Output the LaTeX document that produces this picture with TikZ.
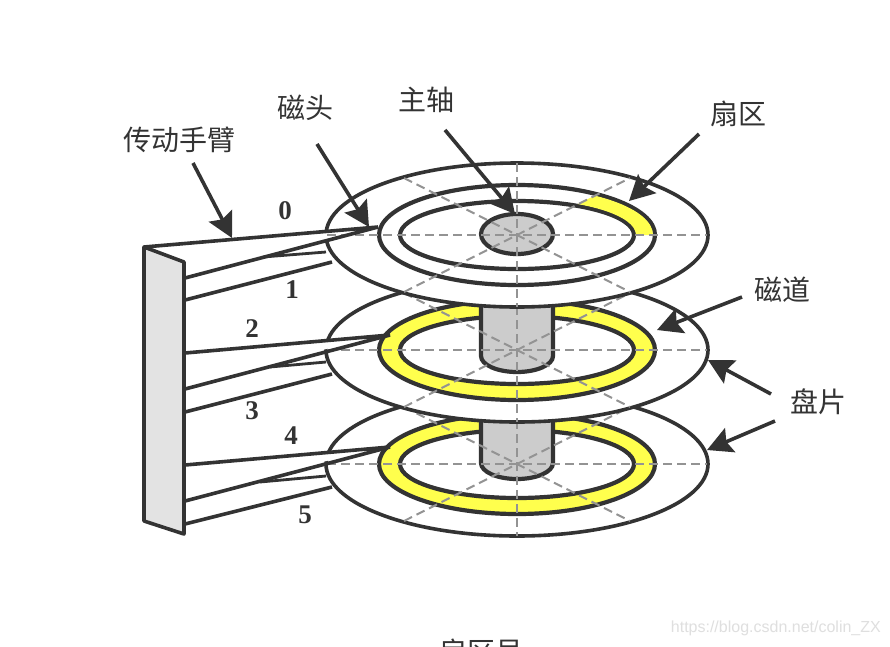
\documentclass[tikz,border=0pt]{standalone}
\usepackage{fontspec}
\newfontfamily\cjk{Noto Sans CJK SC}
\setmainfont{Liberation Serif}
\setsansfont{Liberation Sans}
\usetikzlibrary{arrows.meta}
\definecolor{ink}{HTML}{333333}
\definecolor{ringyellow}{HTML}{FFFF4D}
\definecolor{spindlegray}{HTML}{CCCCCC}
\definecolor{blockgray}{HTML}{E3E3E3}
\tikzset{
	edge/.style={draw=ink,line width=3.6pt},
	track/.style={draw=ink,line width=4.2pt},
	cross/.style={draw=gray!85,line width=2pt,dash pattern=on 9pt off 5pt},
	callout/.style={draw=ink,line width=3.6pt,-{Stealth[length=25pt,width=26pt,inset=4pt]}},
	hanzi/.style={text=ink,font=\cjk\fontsize{28}{30}\selectfont,inner sep=0pt},
	digit/.style={text=ink,font=\bfseries\fontsize{27}{30}\selectfont,inner sep=0pt},
}
\begin{document}
\begin{tikzpicture}[x=1pt,y=-1pt]
	\clip (0,0) rectangle (890,646);
	\fill[white] (0,0) rectangle (890,646);
	% platters with their heads, lowest first
	\foreach \cy/\col/\sb/\ya/\xa/\yh/\xh/\yb/\xk/\yk/\yl/\yc/\ye in {
		464/ringyellow/479/465/185/447/390/501/260/482/476/524/487,
		350/ringyellow/372/353/185/335/390/389/270/367/362/412/374,
		235/white/0/247/144/227/378/278/263/257/252/300/262}{
		\draw[edge,fill=white] (517,\cy) ellipse [x radius=191,y radius=72];
		\draw[track,fill=\col] (517,\cy) ellipse [x radius=138,y radius=50];
		\draw[track,fill=white] (517,\cy) ellipse [x radius=117,y radius=34];
		\ifnum\sb>0
			\draw[track,fill=spindlegray] (481,\cy-130) -- (481,\sb-16) arc [start angle=180,end angle=0,x radius=36,y radius=16] -- (553,\cy-130) -- cycle;
		\else
			% sector on the top platter
			\begin{scope}
				\clip (517,235) -- (720,235) -- (720,132) -- cycle;
				\fill[ringyellow,even odd rule] (517,235) ellipse [x radius=136,y radius=48] (517,235) ellipse [x radius=119,y radius=36];
			\end{scope}
			\draw[track,fill=spindlegray] (517,234) ellipse [x radius=36,y radius=20];
		\fi
		\fill[white] (322,\yh+5) -- (\xh,\yh) -- (322,\yh+15) -- cycle;
		\draw[cross] (327,\cy) -- (707,\cy);
		\draw[cross] (517,\cy-72) -- (517,\cy+72);
		\draw[cross] (404,\cy-57) -- (630,\cy+57);
		\draw[cross] (404,\cy+57) -- (630,\cy-57);
		\draw[edge] (\xa,\ya) -- (\xh,\yh) -- (185,\yb);
		\draw[edge,line width=2.8pt] (\xk,\yk) -- (326,\yl);
		\draw[edge] (185,\yc) -- (332,\ye);
	}
	% arm block
	\draw[edge,fill=blockgray,line join=round] (144,247) -- (184,262) -- (184,534) -- (144,521) -- cycle;
	% labels
	\node[hanzi] (arm) at (179,140) {传动手臂};
	\node[hanzi] (head) at (305,108) {磁头};
	\node[hanzi] (spindle) at (426,100) {主轴};
	\node[hanzi] (sector) at (738,114) {扇区};
	\node[hanzi] (track) at (782,290) {磁道};
	\node[hanzi] (disk) at (818,402) {盘片};
	\node[hanzi] (sectorno) at (481,652) {扇区号};
	\node[digit] (d0) at (285,211) {0};
	\node[digit] (d1) at (292,290) {1};
	\node[digit] (d2) at (252,329) {2};
	\node[digit] (d3) at (252,411) {3};
	\node[digit] (d4) at (291,436) {4};
	\node[digit] (d5) at (305,515) {5};
	\node[text=gray!25,font=\sffamily\fontsize{16}{20}\selectfont,inner sep=0pt,anchor=east] (mark) at (881,628) {https://blog.csdn.net/colin\_ZX};
	% arrows
	\coordinate (armfrom) at (193,163);   \coordinate (armto) at (232,238);
	\coordinate (headfrom) at (317,144);  \coordinate (headto) at (369,227);
	\coordinate (spinfrom) at (445,130);  \coordinate (spinto) at (515,214);
	\coordinate (secfrom) at (699,134);   \coordinate (secto) at (629,201);
	\coordinate (trkfrom) at (742,297);   \coordinate (trkto) at (657,330);
	\coordinate (diskfrom) at (771,394);  \coordinate (diskto) at (708,360);
	\coordinate (diskfromb) at (775,421); \coordinate (disktob) at (707,450);
	\draw[callout] (armfrom) -- (armto);
	\draw[callout] (headfrom) -- (headto);
	\draw[callout] (spinfrom) -- (spinto);
	\draw[callout] (secfrom) -- (secto);
	\draw[callout] (trkfrom) -- (trkto);
	\draw[callout] (diskfrom) -- (diskto);
	\draw[callout] (diskfromb) -- (disktob);
\end{tikzpicture}
\end{document}
